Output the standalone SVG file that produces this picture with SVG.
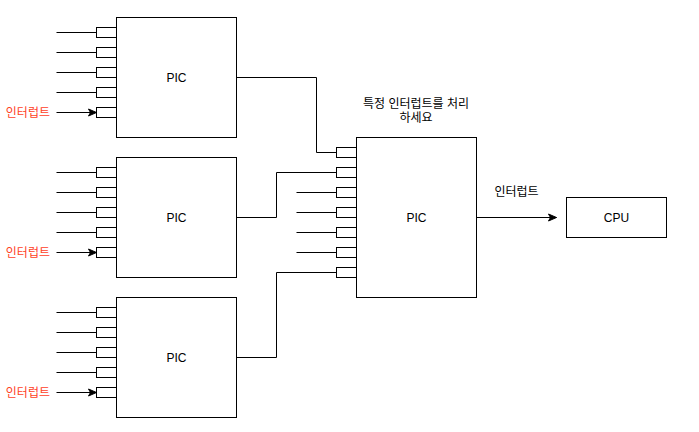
<svg xmlns="http://www.w3.org/2000/svg" width="699" height="432" viewBox="0 0 699 432">
<defs>
<marker id="arr" markerWidth="10" markerHeight="10" refX="9" refY="5" orient="auto" markerUnits="userSpaceOnUse">
<path d="M1,1.5 L9,5 L1,8.5 L3,5 Z" fill="#000" stroke="#000" stroke-width="1"/>
</marker>
<style>
.box{fill:#fff;stroke:#000;stroke-width:1}
.port{fill:#fff;stroke:#000;stroke-width:1}
.ln{fill:none;stroke:#000;stroke-width:1}
.t{font-family:"Liberation Sans","Noto Sans CJK KR",sans-serif;font-size:12px;fill:#000}
.red{fill:#FF3F1F}
</style>
</defs>
<rect width="699" height="432" fill="#fff"/>
<g id="connectors">
<path class="ln" d="M56.5,32.5H96.5M56.5,52.5H96.5M56.5,72.5H96.5M56.5,92.5H96.5"/>
<path class="ln" d="M56.5,112.5H96.5" marker-end="url(#arr)"/>
<path class="ln" d="M56.5,172.5H96.5M56.5,192.5H96.5M56.5,212.5H96.5M56.5,232.5H96.5"/>
<path class="ln" d="M56.5,252.5H96.5" marker-end="url(#arr)"/>
<path class="ln" d="M56.5,312.5H96.5M56.5,332.5H96.5M56.5,352.5H96.5M56.5,372.5H96.5"/>
<path class="ln" d="M56.5,392.5H96.5" marker-end="url(#arr)"/>
<path class="ln" d="M236.5,77.5H316.5V152.5H336.5"/>
<path class="ln" d="M236.5,217.5H276.5V172.5H336.5"/>
<path class="ln" d="M236.5,357.5H276.5V272.5H336.5"/>
<path class="ln" d="M296.5,192.5H336.5M296.5,212.5H336.5M296.5,232.5H336.5M296.5,252.5H336.5"/>
<path class="ln" d="M476.5,217.5H556.5" marker-end="url(#arr)"/>
</g>
<g id="pic1">
<rect class="box" x="116.5" y="17.5" width="120" height="120"/>
<rect class="port" x="96.5" y="27.5" width="20" height="10"/>
<rect class="port" x="96.5" y="47.5" width="20" height="10"/>
<rect class="port" x="96.5" y="67.5" width="20" height="10"/>
<rect class="port" x="96.5" y="87.5" width="20" height="10"/>
<rect class="port" x="96.5" y="107.5" width="20" height="10"/>
<text class="t" x="176.5" y="81.5" text-anchor="middle">PIC</text>
</g>
<g id="pic2">
<rect class="box" x="116.5" y="157.5" width="120" height="120"/>
<rect class="port" x="96.5" y="167.5" width="20" height="10"/>
<rect class="port" x="96.5" y="187.5" width="20" height="10"/>
<rect class="port" x="96.5" y="207.5" width="20" height="10"/>
<rect class="port" x="96.5" y="227.5" width="20" height="10"/>
<rect class="port" x="96.5" y="247.5" width="20" height="10"/>
<text class="t" x="176.5" y="221.5" text-anchor="middle">PIC</text>
</g>
<g id="pic3">
<rect class="box" x="116.5" y="297.5" width="120" height="120"/>
<rect class="port" x="96.5" y="307.5" width="20" height="10"/>
<rect class="port" x="96.5" y="327.5" width="20" height="10"/>
<rect class="port" x="96.5" y="347.5" width="20" height="10"/>
<rect class="port" x="96.5" y="367.5" width="20" height="10"/>
<rect class="port" x="96.5" y="387.5" width="20" height="10"/>
<text class="t" x="176.5" y="361.5" text-anchor="middle">PIC</text>
</g>
<g id="pic-master">
<rect class="box" x="356.5" y="137.5" width="120" height="160"/>
<rect class="port" x="336.5" y="147.5" width="20" height="10"/>
<rect class="port" x="336.5" y="167.5" width="20" height="10"/>
<rect class="port" x="336.5" y="187.5" width="20" height="10"/>
<rect class="port" x="336.5" y="207.5" width="20" height="10"/>
<rect class="port" x="336.5" y="227.5" width="20" height="10"/>
<rect class="port" x="336.5" y="247.5" width="20" height="10"/>
<rect class="port" x="336.5" y="267.5" width="20" height="10"/>
<text class="t" x="416.5" y="221.5" text-anchor="middle">PIC</text>
</g>
<g id="cpu">
<rect class="box" x="566.5" y="197.5" width="100" height="40"/>
<text class="t" x="616.5" y="221.5" text-anchor="middle">CPU</text>
</g>
<g id="labels">
<text class="t red" x="50" y="116.5" text-anchor="end">인터럽트</text>
<text class="t red" x="50" y="256.5" text-anchor="end">인터럽트</text>
<text class="t red" x="50" y="396.5" text-anchor="end">인터럽트</text>
<text class="t" x="416" y="107.5" text-anchor="middle">특정 인터럽트를 처리</text>
<text class="t" x="416" y="121.5" text-anchor="middle">하세요</text>
<text class="t" x="516.5" y="195.5" text-anchor="middle">인터럽트</text>
</g>
</svg>
